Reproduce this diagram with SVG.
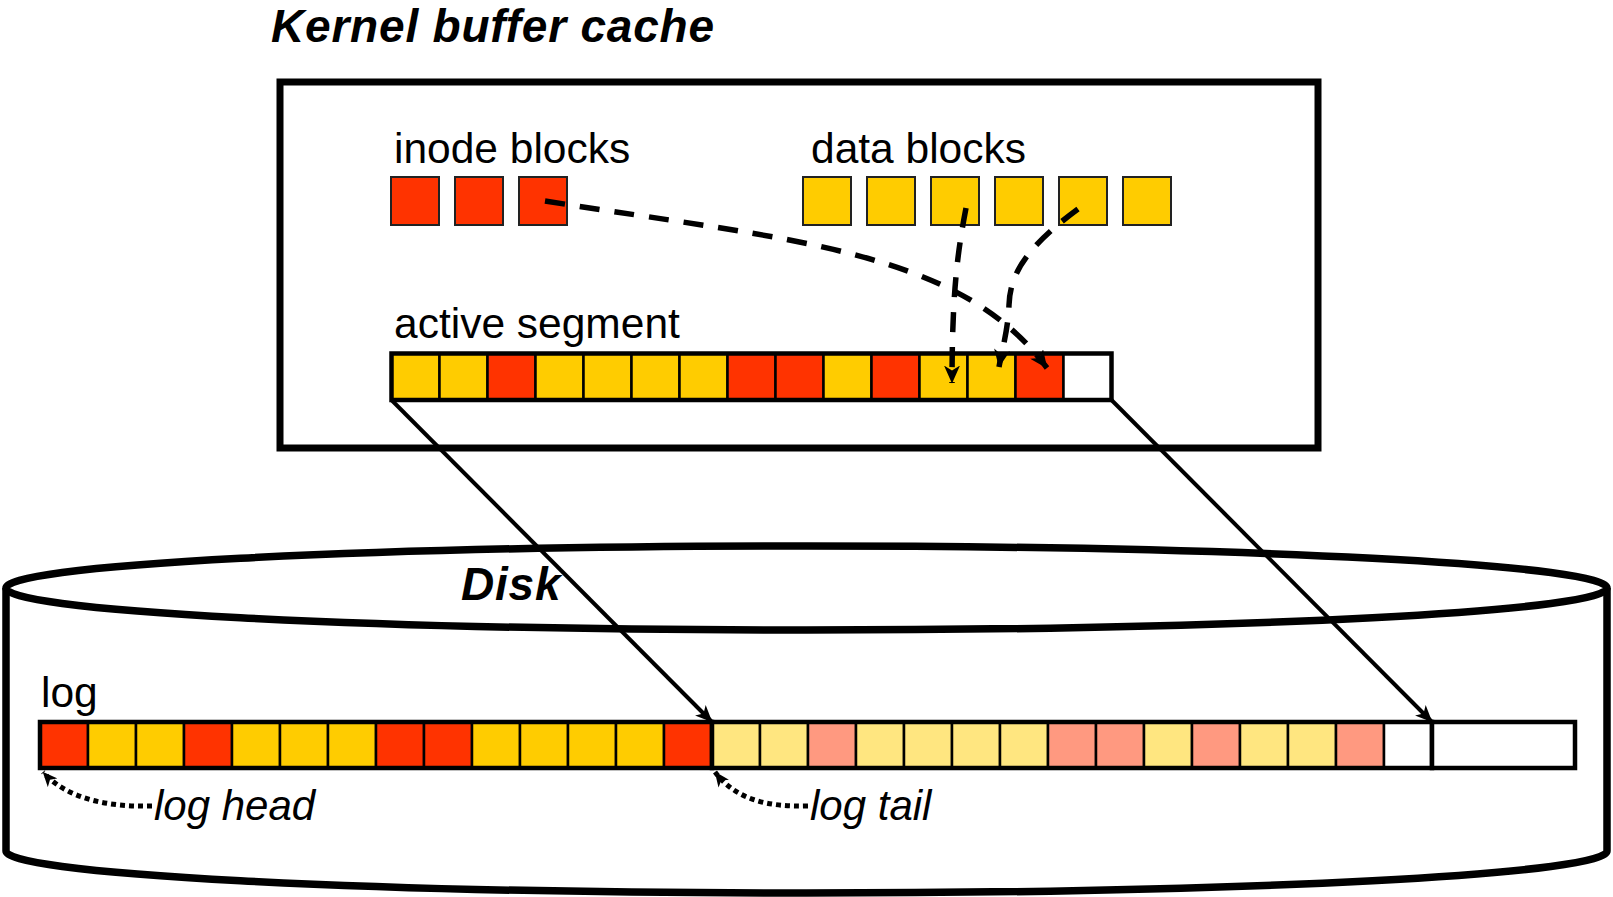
<svg xmlns="http://www.w3.org/2000/svg" width="1613" height="897" viewBox="0 0 1613 897">
  <style>
    .lbl { font-family: "Liberation Sans", Arial, sans-serif; font-size: 42.5px; fill: #000; }
    .head { font-family: "Liberation Sans", Arial, sans-serif; font-size: 46px; font-weight: bold; font-style: italic; fill: #000; letter-spacing: 0.8px; }
    .note { font-family: "Liberation Sans", Arial, sans-serif; font-size: 42px; font-style: italic; fill: #000; }
    .blk { stroke: #222; stroke-width: 2; }
    .cell { stroke: #000; stroke-width: 2.5; }
    .frame { fill: none; stroke: #000; stroke-width: 4.5; }
    .r { fill: #FF3300; }
    .y { fill: #FFCC00; }
    .lr { fill: #FF9980; }
    .ly { fill: #FFE680; }
    .w { fill: #FFFFFF; }
    .dash { fill: none; stroke: #000; stroke-width: 5.5; stroke-dasharray: 20 15; }
    .dot { fill: none; stroke: #000; stroke-width: 5; stroke-dasharray: 5 4; }
    .solid { fill: none; stroke: #000; stroke-width: 4; }
  </style>
  <defs>
    <marker id="arrow" viewBox="0 0 17 15" refX="16.5" refY="7.5" markerWidth="17" markerHeight="15" markerUnits="userSpaceOnUse" orient="auto">
      <path d="M0,0 L17,7.5 L0,15 L4.5,7.5 Z" fill="#000"/>
    </marker>
    <marker id="arrow-dash" viewBox="0 0 18 16" refX="17.5" refY="8" markerWidth="18" markerHeight="16" markerUnits="userSpaceOnUse" orient="auto">
      <path d="M0,0 L18,8 L0,16 L5,8 Z" fill="#000"/>
    </marker>
    <marker id="arrow-sm" viewBox="0 0 15 13" refX="14.5" refY="6.5" markerWidth="15" markerHeight="13" markerUnits="userSpaceOnUse" orient="auto">
      <path d="M0,0 L15,6.5 L0,13 L4,6.5 Z" fill="#000"/>
    </marker>
  </defs>

  <rect width="1613" height="897" fill="#fff"/>

  <!-- kernel buffer cache -->
  <g id="kernel-cache">
    <text class="head" x="271" y="42">Kernel buffer cache</text>
    <rect x="280" y="82" width="1038" height="366" fill="#fff" stroke="#000" stroke-width="7"/>
  </g>

  <g id="inode-blocks">
    <text class="lbl" x="394" y="163">inode blocks</text>
    <rect class="blk r" x="391" y="177" width="48" height="48"/>
    <rect class="blk r" x="455" y="177" width="48" height="48"/>
    <rect class="blk r" x="519" y="177" width="48" height="48"/>
  </g>

  <g id="data-blocks">
    <text class="lbl" x="811" y="163">data blocks</text>
    <rect class="blk y" x="803" y="177" width="48" height="48"/>
    <rect class="blk y" x="867" y="177" width="48" height="48"/>
    <rect class="blk y" x="931" y="177" width="48" height="48"/>
    <rect class="blk y" x="995" y="177" width="48" height="48"/>
    <rect class="blk y" x="1059" y="177" width="48" height="48"/>
    <rect class="blk y" x="1123" y="177" width="48" height="48"/>
  </g>

  <g id="active-segment">
    <text class="lbl" x="394" y="338">active segment</text>
    <rect class="cell y" x="391.5" y="353.5" width="48" height="46.5"/>
    <rect class="cell y" x="439.5" y="353.5" width="48" height="46.5"/>
    <rect class="cell r" x="487.5" y="353.5" width="48" height="46.5"/>
    <rect class="cell y" x="535.5" y="353.5" width="48" height="46.5"/>
    <rect class="cell y" x="583.5" y="353.5" width="48" height="46.5"/>
    <rect class="cell y" x="631.5" y="353.5" width="48" height="46.5"/>
    <rect class="cell y" x="679.5" y="353.5" width="48" height="46.5"/>
    <rect class="cell r" x="727.5" y="353.5" width="48" height="46.5"/>
    <rect class="cell r" x="775.5" y="353.5" width="48" height="46.5"/>
    <rect class="cell y" x="823.5" y="353.5" width="48" height="46.5"/>
    <rect class="cell r" x="871.5" y="353.5" width="48" height="46.5"/>
    <rect class="cell y" x="919.5" y="353.5" width="48" height="46.5"/>
    <rect class="cell y" x="967.5" y="353.5" width="48" height="46.5"/>
    <rect class="cell r" x="1015.5" y="353.5" width="48" height="46.5"/>
    <rect class="cell w" x="1063.5" y="353.5" width="48" height="46.5"/>
    <rect class="frame" x="391.5" y="353.5" width="720" height="46.5"/>
  </g>

  <!-- disk drawn as a cylinder -->
  <g id="disk">
    <path d="M6,588 L6,851 A800.5,42 0 0 0 1607,851 L1607,588" fill="#fff" stroke="#000" stroke-width="7.5" stroke-linejoin="round"/>
    <ellipse cx="806.5" cy="588" rx="800.5" ry="42" fill="#fff" stroke="#000" stroke-width="7.5"/>
    <text class="head" x="461" y="600">Disk</text>
  </g>

  <g id="log">
    <text class="lbl" x="41" y="707">log</text>
    <!-- written part -->
    <rect class="cell r" x="40" y="722" width="48" height="46"/>
    <rect class="cell y" x="88" y="722" width="48" height="46"/>
    <rect class="cell y" x="136" y="722" width="48" height="46"/>
    <rect class="cell r" x="184" y="722" width="48" height="46"/>
    <rect class="cell y" x="232" y="722" width="48" height="46"/>
    <rect class="cell y" x="280" y="722" width="48" height="46"/>
    <rect class="cell y" x="328" y="722" width="48" height="46"/>
    <rect class="cell r" x="376" y="722" width="48" height="46"/>
    <rect class="cell r" x="424" y="722" width="48" height="46"/>
    <rect class="cell y" x="472" y="722" width="48" height="46"/>
    <rect class="cell y" x="520" y="722" width="48" height="46"/>
    <rect class="cell y" x="568" y="722" width="48" height="46"/>
    <rect class="cell y" x="616" y="722" width="48" height="46"/>
    <rect class="cell r" x="664" y="722" width="48" height="46"/>
    <rect class="frame" x="40" y="722" width="672" height="46"/>
    <!-- segment being written -->
    <rect class="cell ly" x="712" y="722" width="48" height="46"/>
    <rect class="cell ly" x="760" y="722" width="48" height="46"/>
    <rect class="cell lr" x="808" y="722" width="48" height="46"/>
    <rect class="cell ly" x="856" y="722" width="48" height="46"/>
    <rect class="cell ly" x="904" y="722" width="48" height="46"/>
    <rect class="cell ly" x="952" y="722" width="48" height="46"/>
    <rect class="cell ly" x="1000" y="722" width="48" height="46"/>
    <rect class="cell lr" x="1048" y="722" width="48" height="46"/>
    <rect class="cell lr" x="1096" y="722" width="48" height="46"/>
    <rect class="cell ly" x="1144" y="722" width="48" height="46"/>
    <rect class="cell lr" x="1192" y="722" width="48" height="46"/>
    <rect class="cell ly" x="1240" y="722" width="48" height="46"/>
    <rect class="cell ly" x="1288" y="722" width="48" height="46"/>
    <rect class="cell lr" x="1336" y="722" width="48" height="46"/>
    <rect class="cell w" x="1384" y="722" width="48" height="46"/>
    <rect class="frame" x="712" y="722" width="720" height="46"/>
    <!-- free space -->
    <rect class="frame" x="1432" y="722" width="143" height="46" style="fill:#fff"/>
    <text class="note" x="154" y="820">log head</text>
    <text class="note" x="810" y="820">log tail</text>
  </g>

  <g id="connectors">
    <path class="dash" d="M545,201 C790,240 960,250 1047,368" marker-end="url(#arrow-dash)"/>
    <path class="dash" d="M966,208 C958,250 952,290 952,383" marker-end="url(#arrow-dash)"/>
    <path class="dash" d="M1078,209 C1025,248 1010,275 1009,305 C1008,330 1002,350 999,367" marker-end="url(#arrow-dash)"/>
    <line class="solid" x1="391.5" y1="400" x2="712" y2="722" marker-end="url(#arrow)"/>
    <line class="solid" x1="1111.5" y1="400" x2="1432" y2="722" marker-end="url(#arrow)"/>
    <path class="dot" d="M152,806 C110,807 68,800 43,772" marker-end="url(#arrow-sm)"/>
    <path class="dot" d="M808,806 C768,807 736,800 715,772" marker-end="url(#arrow-sm)"/>
  </g>
</svg>
